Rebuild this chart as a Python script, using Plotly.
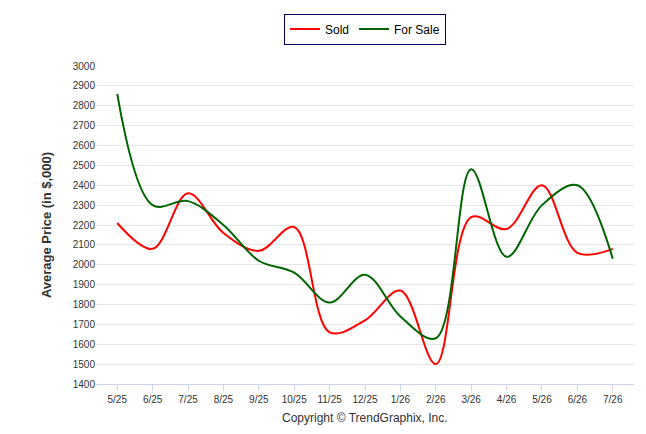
import plotly.graph_objects as go

months = ["5/25", "6/25", "7/25", "8/25", "9/25", "10/25", "11/25", "12/25",
          "1/26", "2/26", "3/26", "4/26", "5/26", "6/26", "7/26"]
sold = [2210, 2080, 2360, 2160, 2070, 2190, 1660, 1720, 1870, 1500, 2240, 2180, 2400, 2060, 2080]
for_sale = [2860, 2300, 2320, 2200, 2020, 1960, 1810, 1950, 1740, 1630, 2480, 2040, 2300, 2400, 2030]

fig = go.Figure()
fig.add_trace(go.Scatter(x=months, y=sold, name="Sold", mode="lines",
                         line=dict(color="#ff0000", width=2, shape="spline", smoothing=1)))
fig.add_trace(go.Scatter(x=months, y=for_sale, name="For Sale", mode="lines",
                         line=dict(color="#006400", width=2, shape="spline", smoothing=1)))

fig.update_layout(
    width=646, height=434,
    paper_bgcolor="white", plot_bgcolor="white",
    margin=dict(l=88, r=20, t=58, b=58, autoexpand=False),
    font=dict(family="Liberation Sans, Arial", size=10, color="#333"),
    showlegend=True,
    legend=dict(orientation="h", x=0.5, xanchor="center", y=1.165, yanchor="top",
                bordercolor="#000066", borderwidth=1, font=dict(size=12, color="#000")),
    xaxis=dict(showgrid=False, showline=True, linecolor="#ccd6eb", ticks="outside",
               tickcolor="#ccd6eb", ticklen=6, range=[-0.6, 14.6],
               tickfont=dict(size=10, color="#333")),
    yaxis=dict(range=[1400, 3000], dtick=100, gridcolor="#e6e6e6", zeroline=False,
               tickfont=dict(size=10, color="#333"), title_standoff=18,
               title=dict(text="<b>Average Price (in $,000)</b>", font=dict(size=13, color="#333"))),
    annotations=[dict(text="Copyright © TrendGraphix, Inc.", x=0.5, y=-0.135,
                      xref="paper", yref="paper", showarrow=False,
                      font=dict(size=12, color="#333"))],
)
fig.write_html("out.html")
